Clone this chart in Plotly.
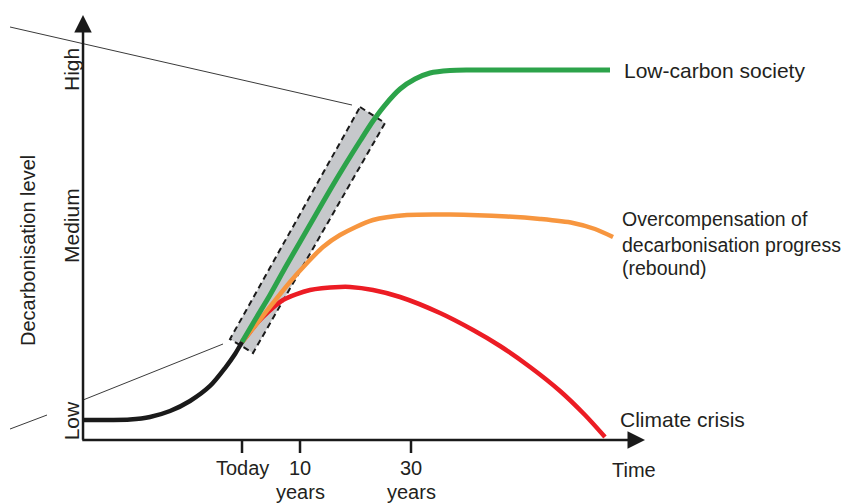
import plotly.graph_objects as go

# ---- data (abstract diagram units: time index 0-100 along x, decarbonisation level 0-100 along y) ----
today_x = [0.0, 4.80, 8.36, 11.92, 15.48, 19.04, 22.60, 25.27, 27.05, 28.29]
today_y = [4.71, 4.71, 4.82, 5.41, 6.82, 9.18, 12.71, 16.94, 20.24, 23.06]

green_x = [28.29, 30.60, 33.27, 35.94, 38.61, 41.28, 43.95, 46.62, 49.29, 51.60, 53.74, 56.41, 59.07, 61.74, 65.30, 68.86, 93.77]
green_y = [23.06, 28.24, 34.12, 40.47, 46.59, 52.71, 58.82, 64.71, 70.35, 75.06, 78.82, 82.59, 84.94, 86.35, 86.94, 87.06, 87.06]

orange_x = [28.29, 31.14, 33.81, 36.83, 39.86, 42.70, 45.73, 51.60, 57.65, 65.30, 75.44, 81.32, 87.19, 91.10, 94.31]
orange_y = [23.06, 27.76, 32.24, 37.18, 41.65, 45.41, 48.24, 51.76, 52.94, 53.06, 52.59, 52.00, 51.06, 49.65, 47.76]

red_x = [28.29, 29.72, 31.14, 32.74, 35.59, 40.39, 45.73, 47.51, 51.60, 56.41, 63.52, 69.40, 74.20, 79.54, 84.88, 89.32, 92.88]
red_y = [23.06, 25.41, 27.76, 29.88, 32.94, 35.29, 36.00, 36.00, 35.29, 33.65, 29.88, 25.88, 22.12, 17.18, 11.53, 5.88, 0.71]

box_x = [49.29, 53.74, 30.25, 26.16, 49.29]
box_y = [78.35, 74.59, 20.47, 23.76, 78.35]

guide_top_x = [-12.99, 47.86]
guide_top_y = [97.18, 78.82]
guide_bot_x = [0.0, 24.91]
guide_bot_y = [9.41, 22.59]
guide_left_x = [-12.99, -6.41]
guide_left_y = [2.59, 5.88]

tick_vals = [28.29, 38.61, 58.36]
tick_text_1 = ["Today", "10", "30"]
tick_text_2 = ["", "years", "years"]

level_labels = ["Low", "Medium", "High"]
level_vals = [4.4, 50.35, 87.06]

scenario_labels = ["Low-carbon society", "Overcompensation of", "decarbonisation progress", "(rebound)", "Climate crisis"]
scenario_label_x = [95.9, 95.6, 95.6, 95.6, 95.2]
scenario_label_y = [87.06, 52.0, 45.88, 40.47, 4.71]
scenario_label_size = [21, 19.5, 19.5, 19.5, 21]

FONT = "Liberation Sans, Arial, Helvetica, sans-serif"
TXT = "#231f20"

fig = go.Figure()

# guide lines (thin)
for gx, gy in [(guide_top_x, guide_top_y), (guide_bot_x, guide_bot_y), (guide_left_x, guide_left_y)]:
    fig.add_trace(go.Scatter(x=gx, y=gy, mode="lines", line=dict(color="#3a3a3a", width=1),
                             hoverinfo="skip", showlegend=False))

# highlighted box
fig.add_trace(go.Scatter(x=box_x, y=box_y, mode="lines", fill="toself", fillcolor="#c6c8cb",
                         line=dict(color="#1a1a1a", width=2, dash="6px,4px"),
                         hoverinfo="skip", showlegend=False))

# scenario curves
fig.add_trace(go.Scatter(x=red_x, y=red_y, mode="lines",
                         line=dict(color="#ec1c24", width=4.5, shape="spline", smoothing=0.8), showlegend=False))
fig.add_trace(go.Scatter(x=orange_x, y=orange_y, mode="lines",
                         line=dict(color="#f7963f", width=4.5, shape="spline", smoothing=0.8), showlegend=False))
fig.add_trace(go.Scatter(x=green_x, y=green_y, mode="lines",
                         line=dict(color="#2ca34a", width=5, shape="spline", smoothing=0.8), showlegend=False))
fig.add_trace(go.Scatter(x=today_x, y=today_y, mode="lines",
                         line=dict(color="#1a1a1a", width=4.5, shape="spline", smoothing=0.8), showlegend=False))

# tick marks
for tv in tick_vals:
    fig.add_trace(go.Scatter(x=[tv, tv], y=[0, -3.06], mode="lines", line=dict(color="#1a1a1a", width=2.5),
                             hoverinfo="skip", showlegend=False))

ann = []
# axes with arrows
ann.append(dict(x=0, y=100, ax=0, ay=-0.3, xref="x", yref="y", axref="x", ayref="y", text="",
                showarrow=True, arrowhead=2, arrowsize=1.4, arrowwidth=2.5, arrowcolor="#1a1a1a", standoff=0))
ann.append(dict(x=100, y=0, ax=-0.4, ay=0, xref="x", yref="y", axref="x", ayref="y", text="",
                showarrow=True, arrowhead=2, arrowsize=1.4, arrowwidth=2.5, arrowcolor="#1a1a1a", standoff=0))

for tv, t1, t2 in zip(tick_vals, tick_text_1, tick_text_2):
    ann.append(dict(x=tv, y=-6.6, text=t1, showarrow=False, xanchor="center", yanchor="middle",
                    font=dict(family=FONT, size=20, color=TXT)))
    if t2:
        ann.append(dict(x=tv, y=-12.24, text=t2, showarrow=False, xanchor="center", yanchor="middle",
                        font=dict(family=FONT, size=20, color=TXT)))
ann.append(dict(x=98.0, y=-7.06, text="Time", showarrow=False, xanchor="center", yanchor="middle",
                font=dict(family=FONT, size=20, color=TXT)))

for lab, lv in zip(level_labels, level_vals):
    ann.append(dict(x=-2.14, y=lv, text=lab, textangle=-90, showarrow=False, xanchor="center", yanchor="middle",
                    font=dict(family=FONT, size=21, color=TXT)))
ann.append(dict(x=-9.79, y=44.47, text="Decarbonisation level", textangle=-90, showarrow=False,
                xanchor="center", yanchor="middle", font=dict(family=FONT, size=20, color=TXT)))

for lab, lx, ly, ls in zip(scenario_labels, scenario_label_x, scenario_label_y, scenario_label_size):
    ann.append(dict(x=lx, y=ly, text=lab, showarrow=False, xanchor="left", yanchor="middle",
                    font=dict(family=FONT, size=ls, color=TXT)))

# the page places the figure 8px in from the top-left corner; ranges compensate for that offset
fig.update_layout(
    width=855, height=504,
    margin=dict(l=0, r=0, t=0, b=0),
    paper_bgcolor="white", plot_bgcolor="white",
    xaxis=dict(range=[-13.35, 138.79], visible=False, fixedrange=True),
    yaxis=dict(range=[-16.94, 101.65], visible=False, fixedrange=True),
    annotations=ann,
    showlegend=False,
)

fig.write_html("out.html")
